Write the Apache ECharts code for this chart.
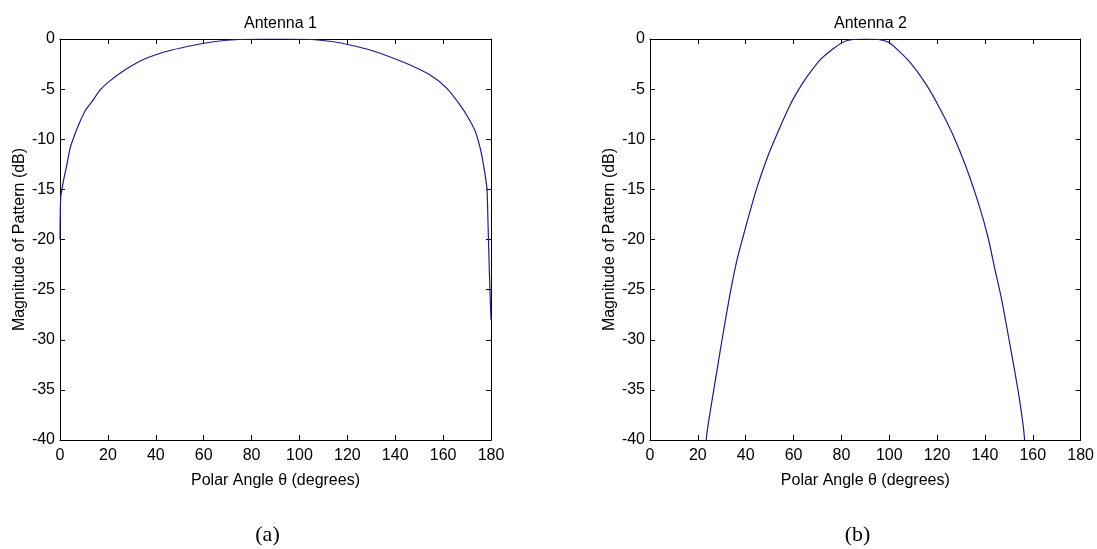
<!DOCTYPE html>
<html>
<head>
<meta charset="utf-8">
<script src="https://cdn.jsdelivr.net/npm/echarts@6/dist/echarts.min.js"></script>
<style>
html,body{margin:0;padding:0;background:#fff;}
#chart{width:1097px;height:549px;}
</style>
</head>
<body>
<div id="chart"></div>
<script>
// ---- data ----
const titles = ['Antenna 1', 'Antenna 2'];
const panelLabels = ['(a)', '(b)'];
const xTicks = [0, 20, 40, 60, 80, 100, 120, 140, 160, 180];
const yTicks = [0, -5, -10, -15, -20, -25, -30, -35, -40];

const ant1Angle = [0, 0.3, 1.4, 2.8, 4.2, 5.6, 7.7, 10.4, 13.2, 16.7, 20.2, 25.8, 32.7, 39.7, 46.7, 56.4, 65, 75, 85, 95, 105, 115, 121.1, 129.5, 137.9, 146.2, 154.6, 161.5, 167.1, 170.6, 173.4, 175.5, 176.9, 178.3, 178.7, 179.4, 180];
const ant1Mag   = [-20, -15.8, -14.2, -12.6, -10.9, -9.9, -8.6, -7.2, -6.3, -5.1, -4.3, -3.3, -2.3, -1.6, -1.1, -0.6, -0.25, -0.05, 0, 0, -0.05, -0.3, -0.6, -1.1, -1.8, -2.6, -3.6, -4.9, -6.6, -7.9, -9.2, -10.9, -12.6, -14.9, -17.9, -23.9, -28];

const ant2Angle = [22.5, 23.7, 27.9, 29.9, 33.4, 36.2, 38.7, 41.8, 44.6, 49.4, 53.6, 58.5, 62, 65.5, 71, 75.9, 80.8, 85, 90, 95.4, 100.2, 108.6, 115.6, 121.1, 126.7, 132.3, 137.8, 141.3, 144.1, 146.9, 149.7, 152.5, 154.6, 156.4, 157.5];
const ant2Mag   = [-44, -39.5, -33.2, -30.3, -25.5, -22.2, -19.9, -17.2, -14.9, -11.6, -9.2, -6.6, -5.1, -3.8, -2.1, -1.1, -0.3, -0.05, 0, -0.05, -0.4, -2.3, -4.6, -6.9, -9.6, -12.9, -16.8, -19.8, -22.9, -25.9, -29.5, -33.2, -36.2, -39.5, -44];

const xLabel = 'Polar Angle \u03B8 (degrees)';
const yLabel = 'Magnitude of Pattern (dB)';

// ---- chart ----
const FONT = "'Liberation Sans Narrow', 'Arial Narrow', 'Liberation Sans', Arial, sans-serif";
const FS = 16;
const grids = [
  {left: 60, top: 39, width: 431, height: 401},
  {left: 650, top: 39, width: 431, height: 401}
];
const lineStyle = {color: '#000', width: 1};

const xAxes = [], yAxes = [], series = [];
grids.forEach((g, i) => {
  xAxes.push({
    gridIndex: i, type: 'value', min: xTicks[0], max: xTicks[xTicks.length - 1],
    interval: xTicks[1] - xTicks[0], position: 'bottom',
    name: xLabel, nameLocation: 'middle', nameGap: 33,
    nameTextStyle: {fontFamily: FONT, fontSize: FS, color: '#000'},
    axisLine: {show: true, onZero: false, lineStyle},
    axisTick: {show: true, inside: true, length: 5, lineStyle},
    axisLabel: {fontFamily: FONT, fontSize: FS, color: '#000', margin: 8},
    splitLine: {show: false}
  });
  xAxes.push({
    gridIndex: i, type: 'value', min: xTicks[0], max: xTicks[xTicks.length - 1],
    interval: xTicks[1] - xTicks[0], position: 'top',
    axisLine: {show: true, onZero: false, lineStyle},
    axisTick: {show: true, inside: true, length: 5, lineStyle},
    axisLabel: {show: false}, splitLine: {show: false}
  });
  yAxes.push({
    gridIndex: i, type: 'value', min: yTicks[yTicks.length - 1], max: yTicks[0],
    interval: yTicks[0] - yTicks[1], position: 'left',
    name: yLabel, nameLocation: 'middle', nameGap: 32, nameRotate: 90,
    nameTextStyle: {fontFamily: FONT, fontSize: FS, color: '#000'},
    axisLine: {show: true, onZero: false, lineStyle},
    axisTick: {show: true, inside: true, length: 5, lineStyle},
    axisLabel: {fontFamily: FONT, fontSize: FS, color: '#000', margin: 5},
    splitLine: {show: false}
  });
  yAxes.push({
    gridIndex: i, type: 'value', min: yTicks[yTicks.length - 1], max: yTicks[0],
    interval: yTicks[0] - yTicks[1], position: 'right',
    axisLine: {show: true, onZero: false, lineStyle},
    axisTick: {show: true, inside: true, length: 5, lineStyle},
    axisLabel: {show: false}, splitLine: {show: false}
  });
});

const sets = [[ant1Angle, ant1Mag], [ant2Angle, ant2Mag]];
sets.forEach((s, i) => {
  series.push({
    type: 'line', xAxisIndex: i * 2, yAxisIndex: i * 2,
    data: s[0].map((a, k) => [a, s[1][k]]),
    showSymbol: false, symbol: 'none', clip: true,
    smooth: 0.2,
    lineStyle: {color: '#1c1c8c', width: 1.2},
    z: 1
  });
});

const chart = echarts.init(document.getElementById('chart'), null, {renderer: 'canvas'});
chart.setOption({
  backgroundColor: '#fff',
  animation: false,
  grid: grids,
  title: grids.map((g, i) => ({
    text: titles[i], left: g.left + g.width / 2, top: 11, textAlign: 'center',
    textStyle: {fontFamily: FONT, fontSize: FS, fontWeight: 'normal', color: '#000'}
  })),
  xAxis: xAxes,
  yAxis: yAxes,
  series: series,
  graphic: grids.map((g, i) => ({
    type: 'text', x: g.left + g.width / 2 - 8, y: 535,
    style: {text: panelLabels[i], fontFamily: "'Liberation Serif', 'Times New Roman', serif",
            fontSize: 22, fill: '#000', align: 'center', verticalAlign: 'middle'}
  }))
});
</script>
</body>
</html>
